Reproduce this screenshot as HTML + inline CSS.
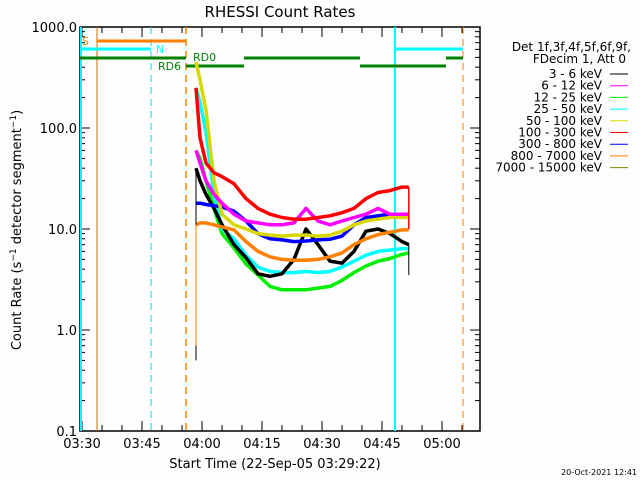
<!DOCTYPE html>
<html><head><meta charset="utf-8"><style>
body{margin:0;background:#fff;}
svg{display:block;font-family:"DejaVu Sans","Liberation Sans",sans-serif;}
</style></head><body>
<svg id="chart" width="640" height="480" viewBox="0 0 640 480">
<rect width="640" height="480" fill="#fdfdfd"/>
<text x="280" y="17" font-size="15" text-anchor="middle">RHESSI Count Rates</text>
<g id="plot"></g>
<text x="275" y="468" font-size="13" text-anchor="middle">Start Time (22-Sep-05 03:29:22)</text>
<text transform="translate(21,230) rotate(-90)" font-size="13" text-anchor="middle">Count Rate (s<tspan dy="-5" font-size="9">−1</tspan><tspan dy="5"> detector segment</tspan><tspan dy="-5" font-size="9">−1</tspan><tspan dy="5">)</tspan></text>
<text x="637" y="475" font-size="8" text-anchor="end">20-Oct-2021 12:41</text>
<g id="legend" font-size="12" text-anchor="end"></g>
</svg>
<script>
const times=[28.5,29.5,31,33,35,38,41,44,47,50,53,56,59,62,65,68,71,74,77,80,81.7];
const seriesNames=["3 - 6 keV","6 - 12 keV","12 - 25 keV","25 - 50 keV","50 - 100 keV","100 - 300 keV","300 - 800 keV","800 - 7000 keV","7000 - 15000 keV"];
const seriesColors=["#000000","#ff00ff","#00ee00","#00ffff","#d8d800","#ff0000","#0000ff","#ff8000","#808000"];
const black36=[40,30,22,16,11,7,5.2,3.6,3.4,3.6,5,10,7,4.8,4.6,6,9.5,10,9,7.5,7];
const magenta612=[60,45,30,22,18,14,12,11.5,11,11,11.5,16,12,11,12,13,14,16,14,14,14];
const green1225=[60,50,30,16,9,6.5,4.5,3.5,2.7,2.5,2.5,2.5,2.6,2.7,3.1,3.7,4.3,4.8,5.1,5.6,5.8];
const cyan2550=[250,180,90,22,10,8,5.5,4.2,3.8,3.7,3.7,3.8,3.7,3.8,4.2,4.8,5.5,6,6.2,6.4,6.4];
const yellow50100=[450,300,150,30,14,11,10,9,8.7,8.5,8.7,8.7,8.5,8.7,9.5,11,12,12.5,13,13,13];
const red100300=[250,80,45,36,33,28,20,16,14,13,12.5,12.5,13,13.5,14.5,16,20,23,24,26,26];
const blue300800=[18,18,17.5,17,16.5,15,12,9,8,7.8,7.5,7.6,7.8,7.9,8.5,11,13,13.5,14,14,14];
const orange8007000=[11,11.5,11.5,11,10.5,9.8,7.5,6,5.3,5,4.9,4.9,5,5.3,5.8,7,8,8.8,9.3,9.8,9.8];
const yTickLabels=["1000.0","100.0","10.0","1.0","0.1"];
const yTickValues=[1000,100,10,1,0.1];
const xTickLabels=["03:30","03:45","04:00","04:15","04:30","04:45","05:00"];
const xTickMinutes=[0,15,30,45,60,75,90];

const L=80,R=480,T=27,B=431;
const x=t=>82+4*t;
const y=v=>B-(Math.log10(v)+1)*101;
const NS="http://www.w3.org/2000/svg";
const plot=document.getElementById('plot');
function mk(tag,attrs,parent){const e=document.createElementNS(NS,tag);for(const k in attrs)e.setAttribute(k,attrs[k]);(parent||plot).appendChild(e);return e;}

let box=mk('rect',{x:L,y:T,width:R-L,height:B-T,fill:'none',stroke:'#000','stroke-width':1.5});



for(let d=-1;d<=3;d++){
  for(let m=1;m<=9;m++){
    const v=m*Math.pow(10,d); if(v>1000)break; const yy=y(v);
    const len=m===1?10:5;
    let t1=mk('line',{x1:L,x2:L+len,y1:yy,y2:yy,stroke:'#000'});
    
    
    let t2=mk('line',{x1:R,x2:R-len,y1:yy,y2:yy,stroke:'#000'});
    
    
  }
}
yTickLabels.forEach((s,i)=>{
  let t=mk('text',{x:L-3,y:y(yTickValues[i])+5,'font-size':13,'text-anchor':'end'});
  t.textContent=s;
  
  
});
for(let m=0;m<=95;m+=5){
  const xx=x(m); if(xx>R)break;
  const len=m%15===0?10:6;
  let a=mk('line',{x1:xx,x2:xx,y1:B,y2:B-len,stroke:'#000'});
  
  
  let b=mk('line',{x1:xx,x2:xx,y1:T,y2:T+len,stroke:'#000'});
  
  
}
xTickLabels.forEach((s,i)=>{
  let t=mk('text',{x:x(xTickMinutes[i]),y:448,'font-size':13,'text-anchor':'middle'});
  t.textContent=s;
  
  
});

function vline(xx,col,dash,name,w){let l=mk('line',{x1:xx,x2:xx,y1:T,y2:B,stroke:col,'stroke-width':w||1,'stroke-dasharray':dash||'none'});}
vline(81,'#00ffff',null,'attenuator-line-start',2);
vline(97,'#d07000',null,'saa-line',1);
vline(151,'#00e0e0','7,5','night-line-dashed',1);
vline(186,'#ff8000','7,5','saa-end-line-dashed',1.5);
vline(395,'#00ffff',null,'night-line-end',2);
vline(463,'#ff8000','7,5','saa-line-dashed-end',1);

function hbar(x1,x2,yy,col,name){let l=mk('line',{x1:x1,x2:x2,y1:yy,y2:yy,stroke:col,'stroke-width':3});}
hbar(97,186,41,'#ff8000','saa-bar');
hbar(80,151,49,'#00ffff','night-bar');
hbar(395,463,49,'#00ffff','night-bar');
hbar(80,186,58,'#008000','rd0-bar');
hbar(244,360,58,'#008000','rd0-bar');
hbar(446,463,58,'#008000','rd0-bar');
hbar(186,244,66,'#008000','rd6-bar');
hbar(360,446,66,'#008000','rd6-bar');
function lbl(xx,yy,s,col,name){let t=mk('text',{x:xx,y:yy,'font-size':11,fill:col});t.textContent=s;}
lbl(82,45,'S','#ff8000','saa-label');
lbl(156,53,'N','#00ffff','night-label');
lbl(193,61,'RD0','#008000','rd0-label');
lbl(158,70,'RD6','#008000','rd6-label');

const drawOrder=[[green1225,2],[cyan2550,3],[black36,0],[orange8007000,7],[blue300800,6],[yellow50100,4],[magenta612,1],[red100300,5]];
drawOrder.forEach(([vals,ci])=>{
  const pts=vals.map((v,i)=>x(times[i]).toFixed(1)+','+y(v).toFixed(1)).join(' ');
  let p=mk('polyline',{points:pts,fill:'none',stroke:seriesColors[ci],'stroke-width':3.5,'stroke-linejoin':'round'});
  
  
});
const tEnd=times[times.length-1];
let sp=mk('line',{x1:x(times[0]),x2:x(times[0]),y1:y(black36[0]),y2:y(0.5),stroke:'#000'});


let os=mk('line',{x1:x(times[0]),x2:x(times[0]),y1:y(orange8007000[0]),y2:y(0.7),stroke:'#ff8000'});


let rd=mk('line',{x1:x(tEnd),x2:x(tEnd),y1:y(red100300[red100300.length-1]),y2:y(10),stroke:'#ff0000','stroke-width':1.5});


let bd=mk('line',{x1:x(tEnd),x2:x(tEnd),y1:y(black36[black36.length-1]),y2:y(3.5),stroke:'#000'});



const lg=document.getElementById('legend');
let h1=mk('text',{x:631,y:51,'font-size':12},lg);h1.textContent='Det 1f,3f,4f,5f,6f,9f,';


let h2=mk('text',{x:626,y:63,'font-size':12},lg);h2.textContent='FDecim 1, Att 0';


seriesNames.forEach((s,i)=>{
  const yy=74+i*11.7;
  let t=mk('text',{x:602,y:yy+4,'font-size':12},lg);t.textContent=s;
  
  
  let l=mk('line',{x1:610,x2:628,y1:yy,y2:yy,stroke:seriesColors[i]},lg);
  
  
});
</script>
</body></html>
